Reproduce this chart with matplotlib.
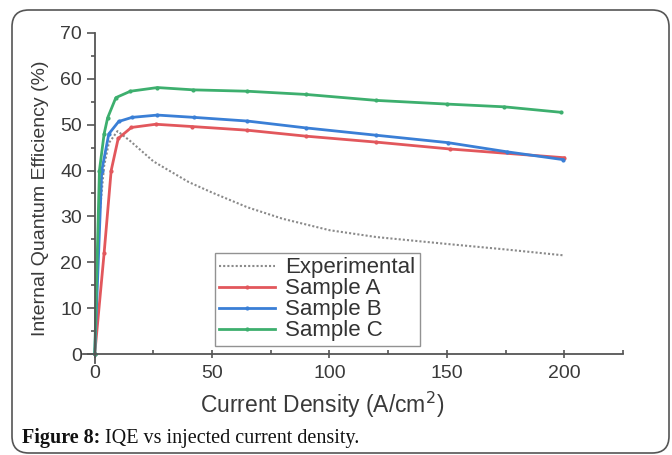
import matplotlib
matplotlib.use("Agg")
import matplotlib.pyplot as plt
from matplotlib.patches import FancyBboxPatch
from matplotlib.ticker import MultipleLocator

# datos
x_exp = [0, 2, 4, 6, 9.7, 15, 25, 40, 50, 65, 80, 100, 120, 150, 175, 200]
y_exp = [0, 30, 41, 46, 48.6, 46.5, 42, 37.5, 35.2, 32, 29.5, 27, 25.5, 24, 22.8, 21.5]

x_a = [0, 4, 7, 10, 15.6, 26, 41.5, 65, 90, 120, 151.4, 200]
y_a = [0, 22, 40, 47, 49.4, 50.1, 49.6, 48.8, 47.5, 46.2, 44.7, 42.8]

x_b = [0, 3, 6, 10.2, 15.9, 26.7, 42.3, 65, 90, 120, 150.3, 175.5, 199.3]
y_b = [0, 40, 48, 50.7, 51.6, 52.1, 51.6, 50.8, 49.3, 47.7, 46.1, 44.1, 42.4]

x_c = [0, 2, 4, 5.5, 9, 15.2, 26.7, 42, 65, 90, 120, 150, 174.4, 198.7]
y_c = [0, 40, 48, 51.5, 55.9, 57.3, 58.1, 57.6, 57.3, 56.6, 55.3, 54.5, 53.9, 52.7]

plt.rcParams['font.family'] = ['Liberation Sans', 'DejaVu Sans']

fig = plt.figure(figsize=(6.72, 4.55), dpi=100)
ax = fig.add_axes([0.1235, 0.2018, 0.8035, 0.7257])

ax.plot(x_exp, y_exp, color='#8a8a8a', linestyle=(0, (1, 1)), linewidth=1.5, label='Experimental')
ax.plot(x_a, y_a, color='#e2575c', linewidth=2, marker='.', markersize=4, label='Sample A')
ax.plot(x_b, y_b, color='#3a7fd6', linewidth=2, marker='.', markersize=4, label='Sample B')
ax.plot(x_c, y_c, color='#3daf6e', linewidth=2, marker='.', markersize=4, label='Sample C')

ax.set_xlim(-5, 225)
ax.set_ylim(-2, 70)
ax.spines['left'].set_position(('data', 0))
ax.spines['bottom'].set_position(('data', 0))
ax.spines['right'].set_visible(False)  # sin eje derecho
ax.spines['top'].set_visible(False)    # sin eje superior
for s in ('left', 'bottom'):
    ax.spines[s].set_color('#555555')
    ax.spines[s].set_linewidth(1.3)

ax.set_xticks([0, 50, 100, 150, 200])
ax.xaxis.set_minor_locator(MultipleLocator(25))
ax.yaxis.set_major_locator(MultipleLocator(10))
ax.yaxis.set_minor_locator(MultipleLocator(5))
ax.tick_params(axis='x', which='major', direction='inout', length=6, width=1.2,
               colors='#555555', labelsize=14, labelcolor='#3a3a3a', pad=5)
ax.tick_params(axis='x', which='minor', direction='in', length=3, width=1.2, colors='#555555')
ax.tick_params(axis='y', which='major', direction='out', length=6, width=1.2,
               colors='#555555', labelsize=14, labelcolor='#3a3a3a', pad=3)
ax.tick_params(axis='y', which='minor', direction='out', length=3, width=1.2, colors='#555555')

ax.set_xlabel('Current Density (A/cm$^2$)', fontsize=16.5, color='#3a3a3a')
ax.set_ylabel('Internal Quantum Efficiency (%)', fontsize=14, color='#3a3a3a')
ax.xaxis.set_label_coords(0.443, -0.08)
ax.yaxis.set_label_coords(-0.063, 0.5)

leg = ax.legend(loc='upper left', bbox_to_anchor=(0.32, 0.444), bbox_transform=fig.transFigure,
                borderaxespad=0, fontsize=16, frameon=True, fancybox=False,
                handlelength=2.5, handletextpad=0.45, labelspacing=0.0, borderpad=0.2)
leg.get_frame().set_edgecolor('#777777')
leg.get_frame().set_linewidth(1.0)
for t in leg.get_texts():
    t.set_color('#333333')

# marco redondeado
frame = FancyBboxPatch((12 / 672, 2 / 455), 657 / 672, 443 / 455,
                       boxstyle='round,pad=0,rounding_size=0.025', mutation_aspect=672 / 455,
                       transform=fig.transFigure, facecolor='none', edgecolor='#555555',
                       linewidth=1.2)
fig.patches.append(frame)

t1 = fig.text(22 / 672, 1 - 443 / 455, 'Figure 8:', fontsize=14.5, fontweight='bold',
              family='Liberation Serif', color='#111111')
ax.annotate(' IQE vs injected current density.', xy=(1, 0), xycoords=t1,
            fontsize=14.5, family='Liberation Serif', color='#111111', va='bottom')

fig.savefig('out.png', dpi=100)
